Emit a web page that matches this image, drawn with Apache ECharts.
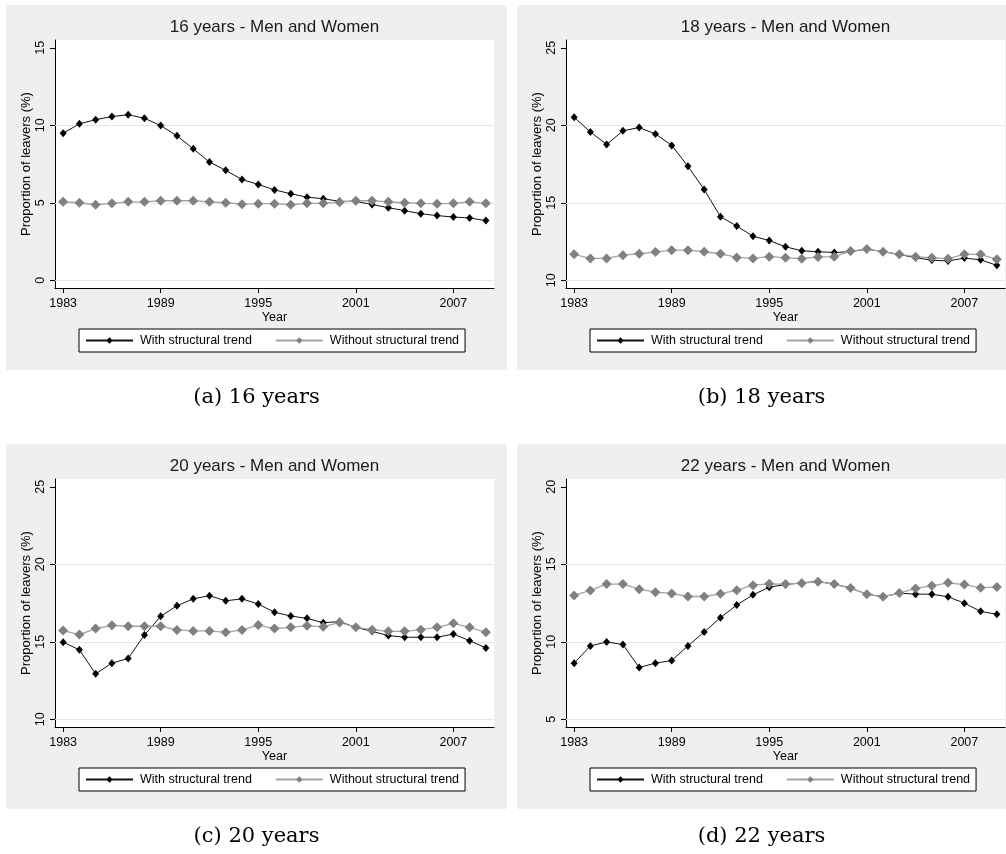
<!DOCTYPE html>
<html>
<head>
<meta charset="utf-8">
<script src="https://cdn.jsdelivr.net/npm/echarts@6/dist/echarts.min.js"></script>
<style>
  html, body { margin: 0; padding: 0; background: #ffffff; }
  #chart { width: 1006px; height: 854px; }
</style>
</head>
<body>
<div id="chart"></div>
<script>
// Survey years on the horizontal axis
const years = [1983, 1984, 1985, 1986, 1987, 1988, 1989, 1990, 1991, 1992, 1993, 1994, 1995,
  1996, 1997, 1998, 1999, 2000, 2001, 2002, 2003, 2004, 2005, 2006, 2007, 2008, 2009];
const yearTicks = [1983, 1989, 1995, 2001, 2007];

// Proportion of leavers (%), 16-year-olds
const age16With = [9.49, 10.09, 10.36, 10.56, 10.68, 10.45, 9.98, 9.32, 8.48, 7.63, 7.09, 6.50, 6.18,
  5.83, 5.58, 5.36, 5.26, 5.09, 5.09, 4.89, 4.68, 4.49, 4.29, 4.17, 4.08, 4.02, 3.85];
const age16Without = [5.06, 5.00, 4.87, 4.96, 5.06, 5.06, 5.13, 5.13, 5.13, 5.06, 5.00, 4.91, 4.94,
  4.94, 4.87, 4.96, 4.96, 5.04, 5.13, 5.13, 5.06, 5.00, 4.96, 4.94, 4.96, 5.06, 4.96];

// 18-year-olds
const age18With = [20.51, 19.57, 18.76, 19.64, 19.85, 19.44, 18.70, 17.35, 15.85, 14.10, 13.50, 12.84, 12.56,
  12.16, 11.90, 11.84, 11.79, 11.84, 12.01, 11.84, 11.67, 11.45, 11.30, 11.24, 11.43, 11.32, 10.96];
const age18Without = [11.67, 11.41, 11.41, 11.62, 11.71, 11.82, 11.94, 11.94, 11.84, 11.71, 11.47, 11.41, 11.52,
  11.45, 11.39, 11.50, 11.52, 11.88, 12.01, 11.84, 11.67, 11.52, 11.45, 11.39, 11.67, 11.67, 11.35];

// 20-year-olds
const age20With = [14.97, 14.48, 12.93, 13.62, 13.92, 15.44, 16.64, 17.32, 17.77, 17.97, 17.64, 17.77, 17.43,
  16.90, 16.66, 16.51, 16.23, 16.30, 15.93, 15.67, 15.40, 15.29, 15.29, 15.29, 15.50, 15.07, 14.60];
const age20Without = [15.72, 15.46, 15.85, 16.06, 16.00, 16.00, 16.00, 15.76, 15.70, 15.70, 15.61, 15.76, 16.08,
  15.85, 15.93, 16.04, 15.96, 16.25, 15.93, 15.78, 15.67, 15.67, 15.78, 15.93, 16.19, 15.93, 15.61];

// 22-year-olds
const age22With = [8.62, 9.73, 9.99, 9.82, 8.34, 8.62, 8.79, 9.73, 10.63, 11.55, 12.37, 13.03, 13.52,
  13.69, 13.80, 13.89, 13.72, 13.46, 13.07, 12.90, 13.14, 13.07, 13.07, 12.90, 12.49, 11.96, 11.77];
const age22Without = [12.99, 13.31, 13.72, 13.72, 13.39, 13.20, 13.12, 12.92, 12.92, 13.09, 13.33, 13.65, 13.74,
  13.72, 13.78, 13.87, 13.72, 13.46, 13.07, 12.90, 13.14, 13.44, 13.61, 13.80, 13.69, 13.48, 13.54];

// Per-panel labels and y-axis ticks
const panelTitles = ['16 years - Men and Women', '18 years - Men and Women',
  '20 years - Men and Women', '22 years - Men and Women'];
const captions = ['(a) 16 years', '(b) 18 years', '(c) 20 years', '(d) 22 years'];
const yTicks = [[0, 5, 10, 15], [10, 15, 20, 25], [10, 15, 20, 25], [5, 10, 15, 20]];
const seriesNames = ['With structural trend', 'Without structural trend'];
const yAxisName = 'Proportion of leavers (%)';
const xAxisName = 'Year';

const withSeries = [age16With, age18With, age20With, age22With];
const withoutSeries = [age16Without, age18Without, age20Without, age22Without];

const SANS = '"Liberation Sans", Arial, sans-serif';
const SERIF = '"DejaVu Serif", serif';

// Panel geometry: plot-region origin of each panel
const panelLeft = [55, 566, 55, 566];
const panelTop = [40, 40, 479, 479];
const plotW = 439, plotH = 248;

const grids = [], xAxes = [], yAxes = [], series = [], legends = [], titles = [], graphics = [];

for (let i = 0; i < 4; i++) {
  const L = panelLeft[i], T = panelTop[i];
  const ticks = yTicks[i];

  // panel background
  graphics.push({
    type: 'rect', z: -10, silent: true,
    shape: { x: L - 49, y: T - 35, width: i % 2 === 0 ? 501 : 489, height: 365 },
    style: { fill: '#efefef' }
  });
  // caption below panel
  graphics.push({
    type: 'text', silent: true,
    x: L - 49 + (i % 2 === 0 ? 250.5 : 244.5), y: T + 358,
    style: { text: captions[i], font: '21px ' + SERIF, fill: '#000', align: 'center', verticalAlign: 'middle' }
  });

  titles.push({
    text: panelTitles[i], left: L + plotW / 2, top: T - 21, textAlign: 'center', padding: 0,
    textStyle: { fontFamily: SANS, fontSize: 17, fontWeight: 'normal', color: '#1a1a1a' }
  });

  grids.push({
    left: L, top: T, width: plotW, height: plotH,
    show: true, backgroundColor: '#ffffff', borderWidth: 0
  });

  xAxes.push({
    type: 'value', gridIndex: i, min: 1982.5, max: 2009.5,
    axisLine: { show: true, onZero: false, lineStyle: { color: '#000', width: 1 } },
    axisTick: { show: true, length: 5, customValues: yearTicks, lineStyle: { color: '#000' } },
    axisLabel: {
      customValues: yearTicks, margin: 9, color: '#000', fontFamily: SANS, fontSize: 12.5,
      formatter: v => String(v)
    },
    splitLine: { show: false },
    name: xAxisName, nameLocation: 'middle', nameGap: 20,
    nameTextStyle: { fontFamily: SANS, fontSize: 12.5, color: '#000' }
  });

  yAxes.push({
    type: 'value', gridIndex: i, min: ticks[0] - 0.5, max: ticks[ticks.length - 1] + 0.5,
    axisLine: { show: true, onZero: false, lineStyle: { color: '#000', width: 1 } },
    axisTick: { show: true, length: 5, customValues: ticks, lineStyle: { color: '#000' } },
    axisLabel: {
      customValues: ticks, rotate: 90, margin: 8, color: '#000', fontFamily: SANS, fontSize: 12.5,
      formatter: v => String(v)
    },
    splitLine: { show: false },
    name: yAxisName, nameLocation: 'middle', nameGap: 21,
    nameTextStyle: { fontFamily: SANS, fontSize: 13, color: '#000' }
  });

  // horizontal grid lines at every labelled tick except the topmost one
  series.push({
    type: 'line', xAxisIndex: i, yAxisIndex: i, data: [], silent: true, z: 1,
    markLine: {
      silent: true, symbol: ['none', 'none'], animation: false, z: 1,
      label: { show: false },
      lineStyle: { color: '#e6e6e6', width: 1, type: 'solid' },
      emphasis: { disabled: true },
      data: ticks.slice(0, -1).map(t => ({ yAxis: t }))
    }
  });

  series.push({
    name: seriesNames[0], type: 'line', xAxisIndex: i, yAxisIndex: i,
    data: years.map((y, k) => [y, withSeries[i][k]]),
    symbol: 'diamond', symbolSize: [7, 8], showSymbol: true,
    lineStyle: { color: '#111', width: 1 },
    itemStyle: { color: '#000' },
    emphasis: { disabled: true }, animation: false, z: 2
  });
  series.push({
    name: seriesNames[1], type: 'line', xAxisIndex: i, yAxisIndex: i,
    data: years.map((y, k) => [y, withoutSeries[i][k]]),
    symbol: 'diamond', symbolSize: [10, 10], showSymbol: true,
    lineStyle: { color: '#a3a3a3', width: 1.3 },
    itemStyle: { color: '#808080' },
    emphasis: { disabled: true }, animation: false, z: 3
  });

  legends.push({
    data: seriesNames, left: L + 24, top: T + 289, orient: 'horizontal',
    backgroundColor: '#ffffff', borderColor: '#000', borderWidth: 1, borderRadius: 0,
    padding: [5, 6, 5, 6], itemWidth: 47, itemHeight: 8, itemGap: 23,
    selectedMode: false,
    textStyle: { fontFamily: SANS, fontSize: 12.5, color: '#000', padding: [0, 0, 0, 2] }
  });
}

const chart = echarts.init(document.getElementById('chart'), null, { renderer: 'canvas' });
chart.setOption({
  backgroundColor: '#ffffff',
  animation: false,
  title: titles,
  grid: grids,
  xAxis: xAxes,
  yAxis: yAxes,
  legend: legends,
  series: series,
  graphic: graphics
});
</script>
</body>
</html>
